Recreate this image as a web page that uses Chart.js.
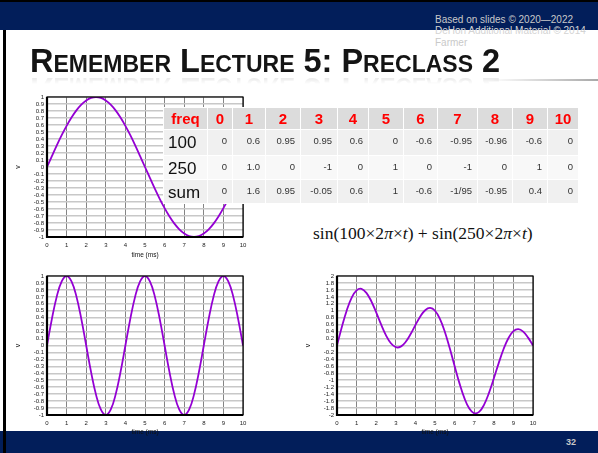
<!DOCTYPE html>
<html>
<head>
<meta charset="utf-8">
<script src="https://cdn.jsdelivr.net/npm/chart.js@4.4.1/dist/chart.umd.min.js"></script>
<style>
  html, body { margin: 0; padding: 0; }
  body { width: 598px; height: 453px; position: relative; overflow: hidden; background: #fff; font-family: "Liberation Sans", Arial, sans-serif; }
  .abs { position: absolute; }
  #topbar { left: 0; top: 0; width: 598px; height: 30px; background: #021e5a; border-top: 2px solid #000; box-sizing: border-box; }
  #botbar { left: 0; top: 431px; width: 598px; height: 22px; background: #021e5a; }
  #leftline { left: 3px; top: 30px; width: 3px; height: 423px; background: #000; }
  .credit { font-size: 10px; color: #c9c9c9; white-space: nowrap; left: 435px; }
  #title { left: 30px; top: 43px; font-family: "Liberation Sans Narrow", "Liberation Sans", sans-serif; font-weight: bold; font-size: 32.5px; font-variant: small-caps; color: #141414; white-space: nowrap;
    -webkit-box-reflect: below -10px linear-gradient(transparent 62%, rgba(255,255,255,0.22)); }
  #rule { left: 490px; top: 79px; width: 108px; height: 2px; background: linear-gradient(to right, rgba(160,160,160,0), #a8a8a8); }
  #pnum { left: 566px; top: 437px; font-size: 9px; font-weight: bold; color: #c8c8c8; }
  canvas { position: absolute; }
  #tbl { position: absolute; left: 163px; top: 107px; border-collapse: collapse; }
  #tbl td { padding: 0; border: 1px solid #fff; box-sizing: border-box; }
  #tbl tr.head td { background: #dcdcdc; color: #ff0000; font-weight: bold; font-size: 15px; text-align: center; height: 22px; }
  #tbl tr.r1 td { background: #f0f0f0; }
  #tbl tr.r2 td { background: #f8f8f8; }
  #tbl tr.r3 td { background: #f0f0f0; }
  #tbl tr.body td { font-size: 9.5px; color: #333; text-align: right; padding-right: 5px; vertical-align: top; padding-top: 5px; }
  #tbl tr.body td.lab { font-size: 17px; color: #111; text-align: left; padding-left: 4px; padding-right: 0; padding-top: 3px; }
  #formula { left: 313px; top: 223px; font-family: "Liberation Serif", "DejaVu Serif", serif; font-size: 17.5px; color: #111; white-space: nowrap; }
</style>
</head>
<body>
<div id="topbar" class="abs"></div>
<div id="botbar" class="abs"></div>
<div id="leftline" class="abs"></div>
<div class="abs credit" style="top:14px;">Based on slides © 2020—2022</div>
<div class="abs credit" style="top:25px; color:#d4d4d4;">DeHon Additional Material © 2014</div>
<div class="abs credit" style="top:37px;">Farmer</div>
<div id="title" class="abs">Remember Lecture 5: Preclass 2</div>
<div id="rule" class="abs"></div>
<div id="pnum" class="abs">32</div>

<canvas id="c1" width="260" height="175" style="left:0; top:90px;"></canvas>
<canvas id="c2" width="260" height="172" style="left:0; top:268px;"></canvas>
<canvas id="c3" width="260" height="172" style="left:290px; top:268px;"></canvas>

<table id="tbl"></table>
<div id="formula" class="abs">sin(100×2<i>π</i>×<i>t</i>) + sin(250×2<i>π</i>×<i>t</i>)</div>

<script>
// time samples (ms) and values
const times = [0, 0.25, 0.5, 0.75, 1, 1.25, 1.5, 1.75, 2, 2.25, 2.5, 2.75, 3, 3.25, 3.5, 3.75, 4, 4.25, 4.5, 4.75,
  5, 5.25, 5.5, 5.75, 6, 6.25, 6.5, 6.75, 7, 7.25, 7.5, 7.75, 8, 8.25, 8.5, 8.75, 9, 9.25, 9.5, 9.75, 10];
const v100 = [0, 0.156, 0.309, 0.454, 0.588, 0.707, 0.809, 0.891, 0.951, 0.988, 1, 0.988, 0.951, 0.891, 0.809, 0.707, 0.588, 0.454, 0.309, 0.156,
  0, -0.156, -0.309, -0.454, -0.588, -0.707, -0.809, -0.891, -0.951, -0.988, -1, -0.988, -0.951, -0.891, -0.809, -0.707, -0.588, -0.454, -0.309, -0.156, 0];
const v250 = [0, 0.383, 0.707, 0.924, 1, 0.924, 0.707, 0.383, 0, -0.383, -0.707, -0.924, -1, -0.924, -0.707, -0.383, 0, 0.383, 0.707, 0.924,
  1, 0.924, 0.707, 0.383, 0, -0.383, -0.707, -0.924, -1, -0.924, -0.707, -0.383, 0, 0.383, 0.707, 0.924, 1, 0.924, 0.707, 0.383, 0];
const vSum = [0, 0.539, 1.016, 1.378, 1.588, 1.631, 1.516, 1.274, 0.951, 0.605, 0.293, 0.064, -0.049, -0.033, 0.102, 0.324, 0.588, 0.837, 1.016, 1.08,
  1, 0.768, 0.398, -0.071, -0.588, -1.09, -1.516, -1.815, -1.951, -1.912, -1.707, -1.371, -0.951, -0.508, -0.102, 0.217, 0.412, 0.47, 0.398, 0.227, 0];

// table
const freqCols = ['0', '1', '2', '3', '4', '5', '6', '7', '8', '9', '10'];
const colWidths = [44, 25, 33, 35, 37, 31, 35, 34, 40, 35, 35, 31];
const row100 = ['0', '0.6', '0.95', '0.95', '0.6', '0', '-0.6', '-0.95', '-0.96', '-0.6', '0'];
const row250 = ['0', '1.0', '0', '-1', '0', '1', '0', '-1', '0', '1', '0'];
const rowSum = ['0', '1.6', '0.95', '-0.05', '0.6', '1', '-0.6', '-1/95', '-0.95', '0.4', '0'];

const tbl = document.getElementById('tbl');
function addRow(cls, label, cells, h) {
  const tr = document.createElement('tr');
  tr.className = cls;
  [label].concat(cells).forEach((txt, i) => {
    const td = document.createElement('td');
    td.textContent = txt;
    td.style.width = colWidths[i] + 'px';
    td.style.height = h + 'px';
    if (i === 0 && cls !== 'head') td.className = 'lab';
    tr.appendChild(td);
  });
  tbl.appendChild(tr);
}
addRow('head', 'freq', freqCols, 22);
addRow('body r1', '100', row100, 26);
addRow('body r2', '250', row250, 24);
addRow('body r3', 'sum', rowSum, 23);

const frame = {
  id: 'frame',
  afterDraw(chart) {
    const { ctx, chartArea: a } = chart;
    ctx.save();
    ctx.strokeStyle = '#000';
    ctx.lineWidth = 1.2;
    ctx.strokeRect(a.left, a.top, a.right - a.left, a.bottom - a.top);
    ctx.lineWidth = 2.2;
    ctx.beginPath();
    ctx.moveTo(a.left, a.top);
    ctx.lineTo(a.left, a.bottom);
    ctx.lineTo(a.right, a.bottom);
    ctx.stroke();
    ctx.restore();
  }
};

function makeChart(id, values, yMax, yStep, pad, xHeight) {
  new Chart(document.getElementById(id), {
    type: 'line',
    data: {
      datasets: [{
        data: times.map((t, i) => ({ x: t, y: values[i] })),
        borderColor: '#9400d3',
        borderWidth: 1.8,
        pointRadius: 0,
        tension: 0.4,
        fill: false
      }]
    },
    options: {
      responsive: false,
      animation: false,
      layout: { padding: pad },
      plugins: { legend: { display: false }, tooltip: { enabled: false } },
      scales: {
        x: {
          type: 'linear', min: 0, max: 10,
          afterFit: s => { s.height = xHeight; },
          ticks: { stepSize: 1, font: { size: 6, family: 'Liberation Sans' }, color: '#222', padding: 5, maxRotation: 0 },
          grid: { color: '#858585', lineWidth: 1, drawTicks: false },
          border: { display: false },
          title: { display: true, text: 'time (ms)', font: { size: 6.5, family: 'Liberation Sans' }, color: '#111', padding: { top: 1, bottom: 0 } }
        },
        y: {
          min: -yMax, max: yMax,
          afterFit: s => { s.width = 47; },
          ticks: {
            stepSize: yStep, autoSkip: false, font: { size: 6, family: 'Liberation Sans' }, color: '#222', padding: 3,
            callback: v => String(Math.round(v * 10) / 10)
          },
          grid: { color: '#c8c8c8', lineWidth: 1.6, drawTicks: false },
          border: { display: false },
          title: { display: true, text: 'v', font: { size: 7, family: 'Liberation Sans' }, color: '#111', padding: { top: 14, bottom: 0 } }
        }
      }
    },
    plugins: [frame]
  });
}

makeChart('c1', v100, 1, 0.1, { top: 7, right: 17, left: 0, bottom: 6 }, 22);
makeChart('c2', v250, 1, 0.1, { top: 8, right: 17, left: 0, bottom: 4 }, 21);
makeChart('c3', vSum, 2, 0.2, { top: 8, right: 17, left: 0, bottom: 4 }, 21);
</script>
</body>
</html>
